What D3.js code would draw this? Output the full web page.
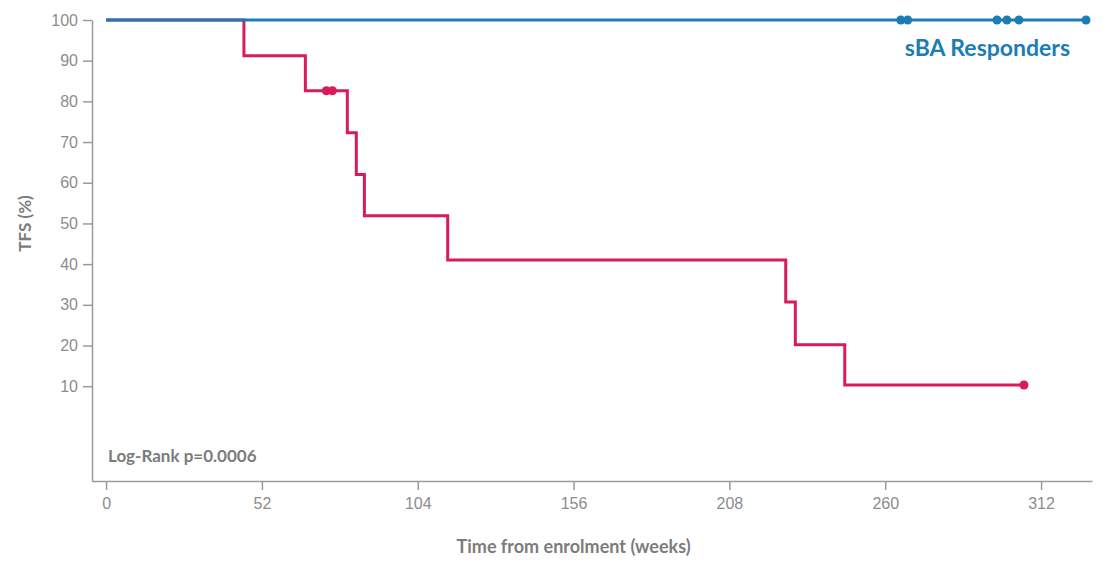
<!DOCTYPE html>
<html>
<head>
<meta charset="utf-8">
<title>TFS by sBA response</title>
<style>
  body { margin: 0; background: #fff; }
  svg { display: block; font-family: 'Lato', 'Open Sans', sans-serif; }
  .axis path, .axis line { stroke: #9a9a9a; stroke-width: 1.5px; }
  .axis text { fill: #8c8c8c; font-size: 16px; }
</style>
</head>
<body>
<div id="chart"></div>
<script src="https://d3js.org/d3.v7.min.js"></script>
<script>
// step points (weeks, TFS %)
var redTimes  = [0, 46, 66.5, 80.5, 83.5, 86.2, 114, 226.8, 230, 246.5, 306.3];
var redValues = [100, 91.2, 82.6, 72.3, 62, 51.9, 41, 30.7, 20.2, 10.3, 10.3];
var redCensorTimes = [73.5, 75.5, 306.3];

var blueTimes  = [0, 327];
var blueValues = [100, 100];
var blueCensorTimes = [265.2, 267.5, 297.3, 300.6, 304.6, 327];

var xTicks = [0, 52, 104, 156, 208, 260, 312];
var yTicks = [10, 20, 30, 40, 50, 60, 70, 80, 90, 100];

var W = 1110, H = 572;
var redColor = "#d81b5b", blueColor = "#1b7db6";

var svg = d3.select("#chart").append("svg")
    .attr("width", W).attr("height", H);

var x = d3.scaleLinear().domain([-4.7, 329]).range([92, 1092]);
var y = d3.scaleLinear().domain([-13.3, 100]).range([481, 20]);

svg.append("g")
    .attr("class", "axis")
    .attr("transform", "translate(0,481)")
    .call(d3.axisBottom(x).tickValues(xTicks).tickSize(9).tickSizeOuter(0).tickPadding(8));

svg.append("g")
    .attr("class", "axis")
    .attr("transform", "translate(92,0)")
    .call(d3.axisLeft(y).tickValues(yTicks).tickSize(9).tickSizeOuter(0).tickPadding(5));

svg.selectAll(".axis .domain").attr("fill", "none");

// axis titles
svg.append("text")
    .attr("transform", "translate(31," + ((y(0) + y(100)) / 2) + ") rotate(-90)")
    .attr("text-anchor", "middle")
    .style("font-size", "17px").style("font-weight", "bold").style("fill", "#7c7c7c")
    .text("TFS (%)");

svg.append("text")
    .attr("x", x(156)).attr("y", 553)
    .attr("text-anchor", "middle")
    .style("font-size", "18px").style("font-weight", "bold").style("fill", "#7c7c7c")
    .text("Time from enrolment (weeks)");

svg.append("text")
    .attr("x", 108).attr("y", 462)
    .style("font-size", "17px").style("font-weight", "bold").style("fill", "#7c7c7c")
    .text("Log-Rank p=0.0006");

var line = d3.line()
    .x(function(d) { return x(d[0]); })
    .y(function(d) { return y(d[1]); })
    .curve(d3.curveStepAfter);

function drawCurve(times, values, censors, color) {
    var pts = times.map(function(t, i) { return [t, values[i]]; });
    svg.append("path")
        .datum(pts)
        .attr("d", line)
        .attr("fill", "none")
        .attr("stroke", color)
        .attr("stroke-width", 3);

    // censored points sit on the curve at its value at that time
    var stepAt = d3.bisector(function(d) { return d[0]; }).right;
    svg.selectAll(null)
        .data(censors)
        .enter().append("circle")
        .attr("cx", function(t) { return x(t); })
        .attr("cy", function(t) { return y(pts[Math.max(0, stepAt(pts, t) - 1)][1]); })
        .attr("r", 4.5)
        .attr("fill", color);
}

drawCurve(redTimes, redValues, redCensorTimes, redColor);
drawCurve(blueTimes, blueValues, blueCensorTimes, blueColor);

svg.append("text")
    .attr("x", 1070).attr("y", 56)
    .attr("text-anchor", "end")
    .style("font-size", "23px").style("font-weight", "bold").style("fill", blueColor)
    .text("sBA Responders");
</script>
</body>
</html>
